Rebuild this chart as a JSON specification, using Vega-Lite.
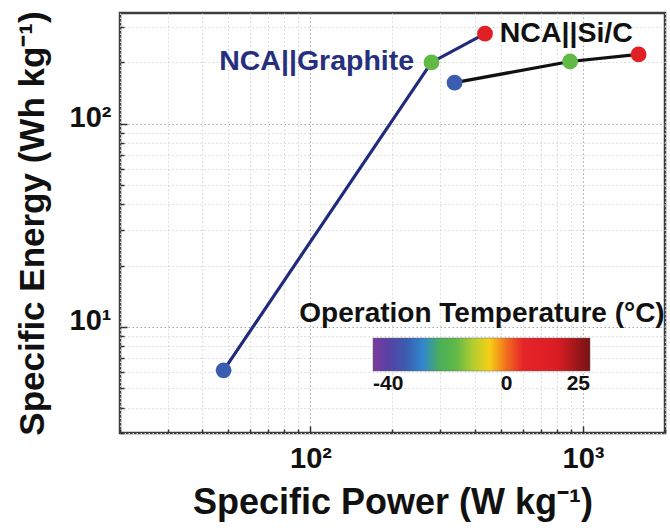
{
  "$schema": "https://vega.github.io/schema/vega-lite/v6.json",
  "width": 545,
  "height": 420,
  "autosize": {"type": "none"},
  "padding": {"left": 120, "top": 13, "right": 5, "bottom": 95},
  "background": "white",
  "config": {
    "font": "Liberation Sans",
    "view": {"stroke": "#3c3c3c", "strokeWidth": 2.5},
    "axis": {
      "domain": false,
      "grid": true,
      "gridDash": [1.5, 2.5],
      "gridWidth": 1,
      "tickColor": "#333333",
      "tickWidth": 1.5,
      "labelFont": "Liberation Sans",
      "labelFontWeight": "bold",
      "labelColor": "#111111",
      "labelFontSize": 29,
      "titleFont": "Liberation Sans",
      "titleFontWeight": "bold",
      "titleColor": "#111111"
    }
  },
  "datasets": {
    "cells": [
      {"cell": "NCA||Graphite", "power": 48, "energy": 6.1, "temp": -30},
      {"cell": "NCA||Graphite", "power": 278, "energy": 200, "temp": -15},
      {"cell": "NCA||Graphite", "power": 437, "energy": 277, "temp": 10},
      {"cell": "NCA||Si/C", "power": 338, "energy": 159, "temp": -30},
      {"cell": "NCA||Si/C", "power": 897, "energy": 202, "temp": -15},
      {"cell": "NCA||Si/C", "power": 1600, "energy": 219, "temp": 10}
    ],
    "labels": [
      {"label": "NCA||Graphite", "power": 240, "energy": 204},
      {"label": "NCA||Si/C", "power": 495, "energy": 279}
    ]
  },
  "encoding": {
    "x": {
      "field": "power",
      "type": "quantitative",
      "scale": {"type": "log", "domain": [20, 2000], "nice": false},
      "axis": {
        "orient": "bottom",
        "values": [20, 30, 40, 50, 60, 70, 80, 90, 100, 200, 300, 400, 500, 600, 700, 800, 900, 1000, 2000],
        "labelExpr": "datum.value == 100 ? '10²' : datum.value == 1000 ? '10³' : ''",
        "tickSize": {"condition": {"test": "datum.value == 100 || datum.value == 1000", "value": -7}, "value": -4},
        "gridColor": {"condition": {"test": "datum.value == 100 || datum.value == 1000", "value": "#a8a8a8"}, "value": "#d6d6d6"},
        "labelPadding": 18,
        "labelOverlap": false,
        "title": "Specific Power (W kg⁻¹)",
        "titleFontSize": 36,
        "titlePadding": 9
      }
    },
    "y": {
      "field": "energy",
      "type": "quantitative",
      "scale": {"type": "log", "domain": [3, 350], "nice": false},
      "axis": {
        "orient": "left",
        "values": [3, 4, 5, 6, 7, 8, 9, 10, 20, 30, 40, 50, 60, 70, 80, 90, 100, 200, 300],
        "labelExpr": "datum.value == 10 ? '10¹' : datum.value == 100 ? '10²' : ''",
        "tickSize": {"condition": {"test": "datum.value == 10 || datum.value == 100", "value": -7}, "value": -4},
        "gridColor": {"condition": {"test": "datum.value == 10 || datum.value == 100", "value": "#a8a8a8"}, "value": "#d6d6d6"},
        "labelPadding": 16,
        "labelOffset": -6,
        "labelOverlap": false,
        "title": "Specific Energy (Wh kg⁻¹)",
        "titleFontSize": 35,
        "titlePadding": 19
      }
    }
  },
  "layer": [
    {
      "data": {"name": "cells"},
      "mark": {"type": "line", "strokeWidth": 3.2},
      "encoding": {
        "stroke": {
          "field": "cell",
          "type": "nominal",
          "scale": {"domain": ["NCA||Graphite", "NCA||Si/C"], "range": ["#222a7c", "#111111"]},
          "legend": null
        }
      }
    },
    {
      "data": {"name": "cells"},
      "mark": {"type": "circle", "size": 250, "opacity": 1},
      "encoding": {
        "color": {
          "field": "temp",
          "type": "quantitative",
          "scale": {
            "domain": [-40, -35.5, -30.2, -25.7, -23.1, -19.9, -15.3, -10.7, -6.2, -2.3, 2.2, 15.2, 25],
            "range": ["#7b3a9c", "#5a3fa5", "#3a5cae", "#3a70c0", "#44c2ea", "#4fae52", "#5cb848", "#a8c832", "#f5e41e", "#f5a020", "#e8262a", "#dc1c24", "#761314"]
          },
          "legend": {
            "orient": "none",
            "direction": "horizontal",
            "legendX": 179,
            "legendY": 287,
            "title": "Operation Temperature (°C)",
            "titleFontSize": 28,
            "titleFontWeight": "bold",
            "titleColor": "#111111",
            "titleLimit": 600,
            "titleAnchor": "middle",
            "titlePadding": 10,
            "gradientLength": 217,
            "gradientThickness": 33,
            "gradientStrokeColor": "#666666",
            "gradientStrokeWidth": 0.5,
            "values": [-40, 0, 25],
            "labelExpr": "replace(datum.label, '−', '-')",
            "labelAlign": "center",
            "labelFontSize": 21,
            "labelFontWeight": "bold",
            "labelColor": "#111111",
            "labelOverlap": false
          }
        }
      }
    },
    {
      "data": {"name": "labels"},
      "transform": [{"filter": "datum.label == 'NCA||Graphite'"}],
      "mark": {"type": "text", "align": "right", "baseline": "middle", "fontSize": 28.5, "fontWeight": "bold", "color": "#262f7e"},
      "encoding": {"text": {"field": "label"}}
    },
    {
      "data": {"name": "labels"},
      "transform": [{"filter": "datum.label == 'NCA||Si/C'"}],
      "mark": {"type": "text", "align": "left", "baseline": "middle", "fontSize": 28.5, "fontWeight": "bold", "color": "#111111"},
      "encoding": {"text": {"field": "label"}}
    }
  ]
}
